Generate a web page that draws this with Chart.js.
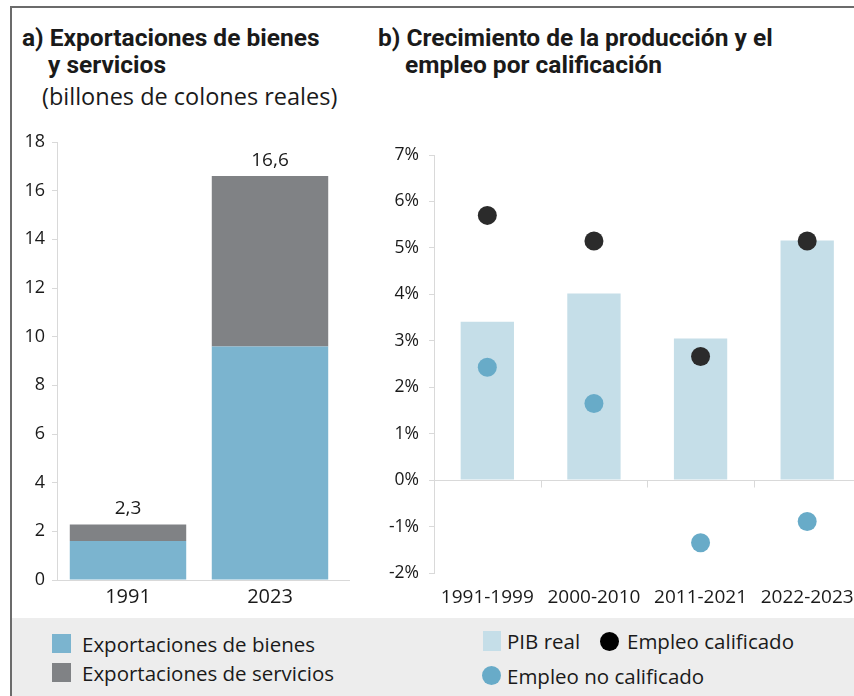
<!DOCTYPE html>
<html>
<head>
<meta charset="utf-8">
<script src="https://cdn.jsdelivr.net/npm/chart.js@4.4.1/dist/chart.umd.min.js"></script>
<style>
  html, body { margin: 0; padding: 0; background: #fff; }
  body { width: 854px; height: 696px; overflow: hidden; position: relative; font-family: 'Open Sans', sans-serif; color: #1a1a1a; }
  .frame { position: absolute; left: 10px; top: 6px; width: 900px; height: 700px; border-left: 2px solid #6b6b6b; border-top: 2px solid #6b6b6b; }
  .band { position: absolute; left: 12px; top: 618px; width: 860px; height: 80px; background: #ededed; }
  .t { position: absolute; white-space: nowrap; line-height: 26px; }
  .tb { font-family: Roboto, sans-serif; font-weight: 700; font-size: 24.5px; }
  .ts { font-size: 23.5px; }
  .lg { position: absolute; white-space: nowrap; font-size: 20.5px; line-height: 24px; }
  .sq { position: absolute; }
  .dot { position: absolute; border-radius: 50%; }
  canvas { position: absolute; }
</style>
</head>
<body>
<div class="frame"></div>
<div class="band"></div>

<div class="t tb" style="left:22px; top:25px;">a) Exportaciones de bienes</div>
<div class="t tb" style="left:48px; top:52px;">y servicios</div>
<div class="t ts" style="left:42px; top:83px;">(billones de colones reales)</div>
<div class="t tb" style="left:378px; top:25px;">b) Crecimiento de la producción y el</div>
<div class="t tb" style="left:405px; top:52px;">empleo por calificación</div>

<canvas id="exportChart" width="350" height="495" style="left:0; top:120px;"></canvas>
<canvas id="growthChart" width="510" height="495" style="left:360px; top:120px;"></canvas>

<div class="sq" style="left:52px; top:634px; width:19px; height:19px; background:#7bb4cf;"></div>
<div class="lg" style="left:82px; top:632px;">Exportaciones de bienes</div>
<div class="sq" style="left:52px; top:663px; width:19px; height:19px; background:#808285;"></div>
<div class="lg" style="left:82px; top:661px;">Exportaciones de servicios</div>

<div class="sq" style="left:483px; top:631px; width:18px; height:20px; background:#c5dee8;"></div>
<div class="lg" style="left:507px; top:629px;">PIB real</div>
<div class="dot" style="left:600px; top:632px; width:19px; height:19px; background:#000;"></div>
<div class="lg" style="left:627px; top:629px;">Empleo calificado</div>
<div class="dot" style="left:482px; top:666px; width:19px; height:19px; background:#68abc8;"></div>
<div class="lg" style="left:507px; top:664px;">Empleo no calificado</div>

<script>
// datos panel a)
const years = ['1991', '2023'];
const bienes = [1.6, 9.6];
const servicios = [0.68, 7.0];
const yTicksA = [0, 2, 4, 6, 8, 10, 12, 14, 16, 18];

// datos panel b)
const periodos = ['1991-1999', '2000-2010', '2011-2021', '2022-2023'];
const pibReal = [3.41, 4.02, 3.05, 5.16];
const empleoCalificado = [5.70, 5.15, 2.66, 5.15];
const empleoNoCalificado = [2.43, 1.65, -1.35, -0.89];
const yTicksB = [-2, -1, 0, 1, 2, 3, 4, 5, 6, 7];

const colorBienes = '#7bb4cf';
const colorServicios = '#808285';
const colorPib = '#c5dee8';
const colorCalif = '#2b2b2b';
const colorNoCalif = '#68abc8';
const axisGrey = '#d9d9d9';
const textColor = '#1a1a1a';
const fontFam = "'Open Sans', sans-serif";

// etiquetas de total encima de las barras + prolongar el eje x
const totalsPlugin = {
  id: 'totals',
  afterDatasetsDraw(chart) {
    const ctx = chart.ctx;
    const meta = chart.getDatasetMeta(1);
    ctx.save();
    ctx.font = '19px ' + fontFam;
    ctx.fillStyle = textColor;
    ctx.textAlign = 'center';
    ctx.textBaseline = 'bottom';
    meta.data.forEach((bar, i) => {
      const total = bienes[i] + servicios[i];
      ctx.fillText(total.toFixed(1).replace('.', ','), bar.x, bar.y - 6);
    });
    const a = chart.chartArea;
    ctx.strokeStyle = axisGrey;
    ctx.lineWidth = 1;
    ctx.beginPath();
    ctx.moveTo(a.right, a.bottom + 0.5);
    ctx.lineTo(a.right + 21, a.bottom + 0.5);
    ctx.stroke();
    ctx.restore();
  }
};

// marcas entre categorías sobre la línea del 0%
const zeroTicksPlugin = {
  id: 'zeroTicks',
  afterDraw(chart) {
    const x = chart.scales.x, y = chart.scales.y;
    const y0 = Math.round(y.getPixelForValue(0)) + 0.5;
    const ctx = chart.ctx;
    ctx.save();
    ctx.strokeStyle = axisGrey;
    ctx.lineWidth = 1;
    for (let i = 0; i < periodos.length - 1; i++) {
      const px = Math.round((x.getPixelForValue(i) + x.getPixelForValue(i + 1)) / 2) + 0.5;
      ctx.beginPath();
      ctx.moveTo(px, y0);
      ctx.lineTo(px, y0 + 7);
      ctx.stroke();
    }
    ctx.restore();
  }
};

new Chart(document.getElementById('exportChart'), {
  type: 'bar',
  data: {
    labels: years,
    datasets: [
      { label: 'Exportaciones de bienes', data: bienes, backgroundColor: colorBienes, borderWidth: 0, barPercentage: 0.82, categoryPercentage: 1 },
      { label: 'Exportaciones de servicios', data: servicios, backgroundColor: colorServicios, borderWidth: 0, barPercentage: 0.82, categoryPercentage: 1 }
    ]
  },
  options: {
    responsive: false,
    devicePixelRatio: 1,
    animation: false,
    layout: { padding: { top: 22, right: 9, left: 0, bottom: 0 } },
    plugins: { legend: { display: false }, tooltip: { enabled: false } },
    scales: {
      x: {
        stacked: true,
        grid: { display: false, drawTicks: false },
        border: { color: axisGrey },
        ticks: { color: textColor, font: { family: fontFam, size: 20 }, padding: 5 },
        afterFit: s => { s.height = 35; }
      },
      y: {
        stacked: true,
        min: 0, max: 18,
        afterBuildTicks: s => { s.ticks = yTicksA.map(v => ({ value: v })); },
        grid: { drawOnChartArea: false, tickLength: 5, tickColor: axisGrey },
        border: { color: axisGrey },
        ticks: { color: textColor, font: { family: fontFam, size: 18 }, padding: 7 },
        afterFit: s => { s.width = 57; }
      }
    }
  },
  plugins: [totalsPlugin]
});

new Chart(document.getElementById('growthChart'), {
  data: {
    labels: periodos,
    datasets: [
      { type: 'line', label: 'Empleo calificado', data: empleoCalificado, showLine: false, pointRadius: 9.5, pointHoverRadius: 9.5, pointBackgroundColor: colorCalif, pointBorderWidth: 0, order: 0 },
      { type: 'line', label: 'Empleo no calificado', data: empleoNoCalificado, showLine: false, pointRadius: 9.5, pointHoverRadius: 9.5, pointBackgroundColor: colorNoCalif, pointBorderWidth: 0, order: 1 },
      { type: 'bar', label: 'PIB real', data: pibReal, backgroundColor: colorPib, borderWidth: 0, barPercentage: 0.5, categoryPercentage: 1, order: 2 }
    ]
  },
  options: {
    responsive: false,
    devicePixelRatio: 1,
    animation: false,
    layout: { padding: { top: 35, right: 0, left: 0, bottom: 0 } },
    plugins: { legend: { display: false }, tooltip: { enabled: false } },
    scales: {
      x: {
        offset: true,
        grid: { display: false, drawTicks: false },
        border: { display: false },
        ticks: { color: textColor, font: { family: fontFam, size: 19 }, padding: 13, maxRotation: 0 },
        afterFit: s => { s.height = 42; }
      },
      y: {
        min: -2, max: 7,
        afterBuildTicks: s => { s.ticks = yTicksB.map(v => ({ value: v })); },
        grid: {
          color: c => (c.tick && c.tick.value === 0) ? axisGrey : 'rgba(0,0,0,0)',
          tickLength: 5,
          tickColor: axisGrey
        },
        border: { color: axisGrey },
        ticks: { color: textColor, font: { family: fontFam, size: 17.5 }, padding: 10, callback: v => v + '%' },
        afterFit: s => { s.width = 74; }
      }
    }
  },
  plugins: [zeroTicksPlugin]
});
</script>
</body>
</html>
